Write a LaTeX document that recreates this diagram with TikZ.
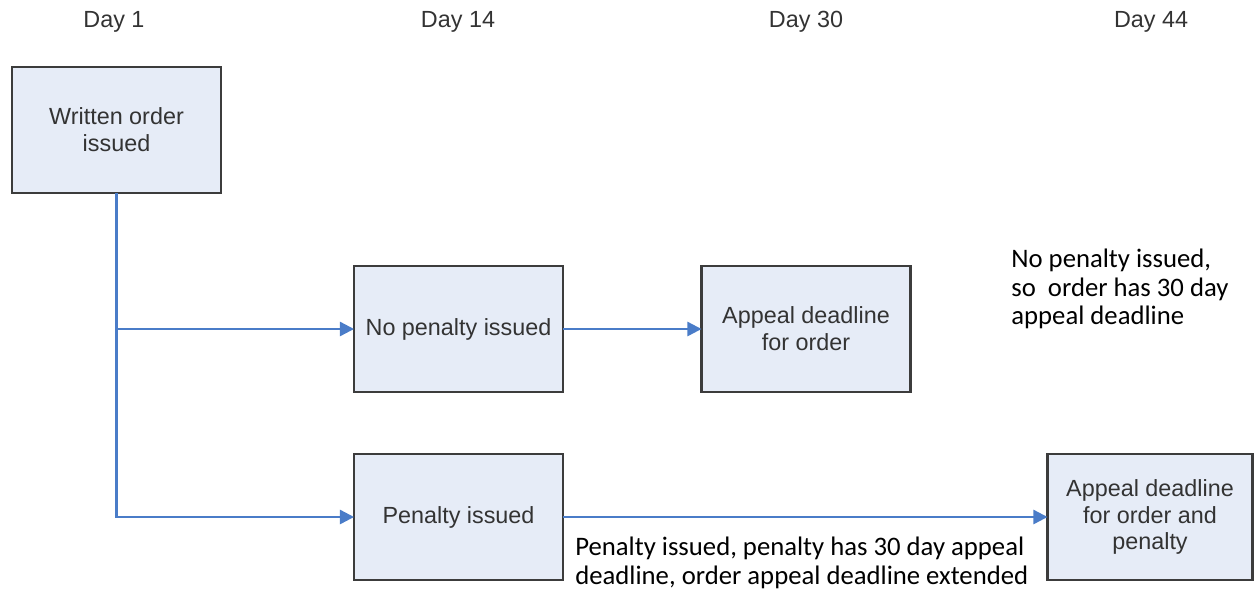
\documentclass[tikz,border=0pt]{standalone}
\usepackage{fontspec}
\setmainfont{Liberation Sans}
\newfontfamily\noteFont{Carlito}
\usepackage{tikz}
\usetikzlibrary{positioning, calc, arrows.meta}
\definecolor{boxFill}{HTML}{E6ECF7}
\definecolor{boxLine}{HTML}{3C3C3C}
\definecolor{flowBlue}{HTML}{4A7CC8}
\definecolor{labelGray}{HTML}{333333}
\tikzstyle{stepBox}=[draw=boxLine,fill=boxFill,line width=1.5pt,rectangle,minimum width=4.18cm,minimum height=2.52cm,inner sep=2pt,outer sep=0pt,align=center,text=labelGray,font=\fontsize{13.3}{15.3}\selectfont]
\tikzstyle{dayLabel}=[text=labelGray,font=\fontsize{13.3}{15.3}\selectfont]
\tikzstyle{noteText}=[anchor=north west,inner sep=0pt,align=left,font=\noteFont\fontsize{15.2}{16.2}\selectfont]
\tikzstyle{flowArrow}=[-{Triangle[length=8pt,width=8pt]}, flowBlue, line width=1.3pt]

\begin{document}
\begin{tikzpicture}[x=0.02cm, y=-0.02cm]
        \useasboundingbox (0, 0) rectangle (1256, 592);

        \node[dayLabel] (d1) at (114, 22) {Day 1};
        \node[dayLabel] (d14) at (458, 22) {Day 14};
        \node[dayLabel] (d30) at (806, 22) {Day 30};
        \node[dayLabel] (d44) at (1151, 22) {Day 44};

        \node[stepBox] (order) at (116.5, 130) {Written order\\issued};
        \node[stepBox] (noPenalty) at (458.5, 329) {No penalty issued};
        \node[stepBox] (appealOrder) at (806, 329) {Appeal deadline\\for order};
        \node[stepBox] (penalty) at (458.5, 517) {Penalty issued};
        \node[stepBox, minimum width=4.1cm] (appealBoth) at (1150, 517) {Appeal deadline\\for order and\\penalty};

        \draw[flowArrow] (order.south) |- (penalty.west);
        \draw[flowArrow] (order.south |- noPenalty.west) -- (noPenalty.west);
        \draw[flowArrow] (noPenalty) -- (appealOrder);
        \draw[flowArrow] (penalty) -- (appealBoth);

        \node[noteText] (noteNoPenalty) at (1011, 249) {No penalty issued,\\so\ \ order has 30 day\\appeal deadline};
        \node[noteText] (notePenalty) at (575, 537) {Penalty issued, penalty has 30 day appeal\\deadline, order appeal deadline extended};
    \end{tikzpicture}
\end{document}
